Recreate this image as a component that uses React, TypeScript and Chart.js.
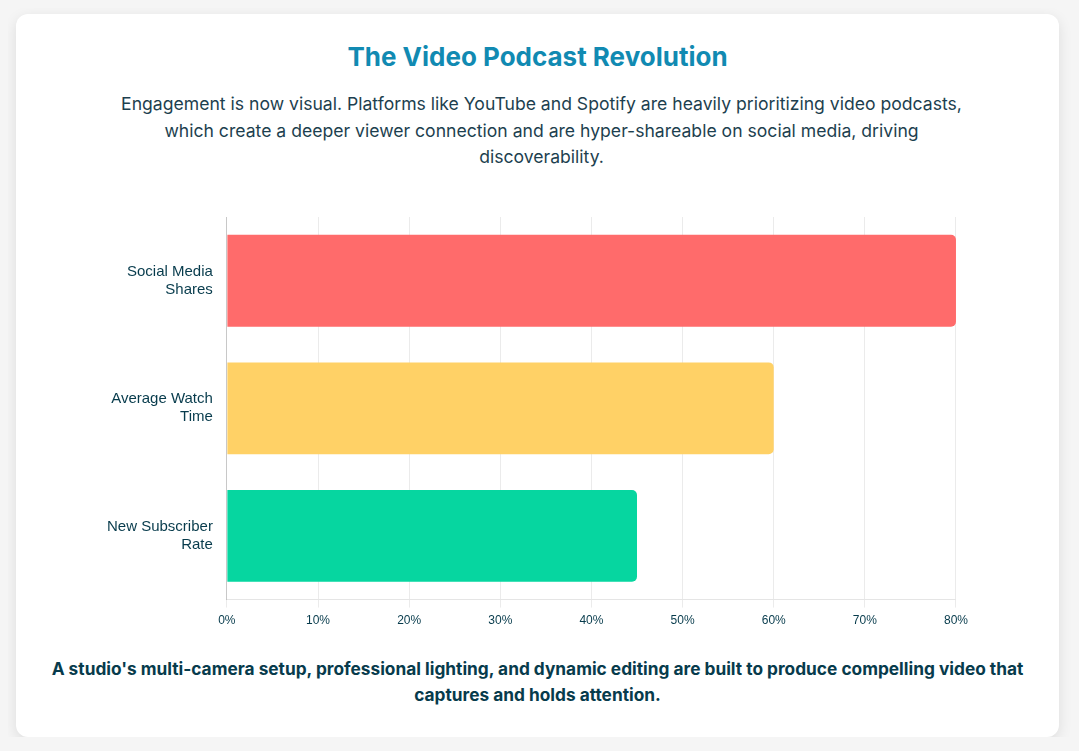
import React, { useEffect, useRef } from "react";
import { Chart, registerables } from "chart.js";

Chart.register(...registerables);

const TITLE = "The Video Podcast Revolution";
const SUBTITLE =
  "Engagement is now visual. Platforms like YouTube and Spotify are heavily prioritizing video podcasts, which create a deeper viewer connection and are hyper-shareable on social media, driving discoverability.";
const FOOTER =
  "A studio's multi-camera setup, professional lighting, and dynamic editing are built to produce compelling video that captures and holds attention.";

const categories: string[][] = [
  ["Social Media", "Shares"],
  ["Average Watch", "Time"],
  ["New Subscriber", "Rate"],
];
const values: number[] = [80, 60, 45];
const barColors: string[] = ["#ff6b6b", "#ffd166", "#06d6a0"];

const DARK = "#073b4c";
const SANS = "Inter, 'Noto Sans', sans-serif";

export default function App() {
  const ref = useRef<HTMLCanvasElement | null>(null);

  useEffect(() => {
    document.body.style.background = "#f5f5f5";
    document.documentElement.style.background = "#f5f5f5";
    if (!ref.current) return;
    const chart = new Chart(ref.current, {
      type: "bar",
      data: {
        labels: categories,
        datasets: [
          {
            data: values,
            backgroundColor: barColors,
            borderColor: barColors,
            borderWidth: 0,
            borderRadius: 5,
          },
        ],
      },
      options: {
        indexAxis: "y",
        animation: false,
        responsive: true,
        maintainAspectRatio: false,
        plugins: {
          legend: { display: false },
          tooltip: { enabled: false },
        },
        scales: {
          x: {
            beginAtZero: true,
            max: 80,
            ticks: {
              stepSize: 10,
              color: DARK,
              padding: 6,
              font: { size: 12 },
              callback: (v: any) => v + "%",
            },
            grid: { color: "rgba(0,0,0,0.08)" },
          },
          y: {
            grid: { display: false },
            border: { color: "rgba(0,0,0,0.15)" },
            ticks: {
              color: DARK,
              padding: 6,
              font: { size: 15 },
            },
          },
        },
      },
    });
    return () => chart.destroy();
  }, []);

  return (
    <div
      style={{
        width: 1043,
        margin: "6px 0 0 8px",
        background: "#fff",
        borderRadius: 12,
        boxShadow: "0 4px 14px rgba(0,0,0,0.10)",
        paddingTop: 26,
        paddingBottom: 29,
        boxSizing: "border-box",
        fontFamily: SANS,
      }}
    >
      <h1
        style={{
          margin: 0,
          textAlign: "center",
          fontSize: 26,
          lineHeight: "34px",
          fontWeight: 700,
          color: "#118ab2",
        }}
      >
        {TITLE}
      </h1>
      <p
        style={{
          margin: "17px auto 0",
          maxWidth: 864,
          textAlign: "center",
          fontSize: 17.6,
          lineHeight: "26.5px",
          color: "#1d3f4f",
          position: "relative",
          left: 4,
        }}
      >
        {SUBTITLE}
      </p>
      <div
        style={{
          position: "relative",
          width: 873,
          height: 441,
          margin: "22px 0 0 85px",
        }}
      >
        <canvas ref={ref} />
      </div>
      <p
        style={{
          margin: "22px 26px 0",
          textAlign: "center",
          fontSize: 17.3,
          lineHeight: "26.4px",
          fontWeight: 700,
          color: DARK,
        }}
      >
        {FOOTER}
      </p>
    </div>
  );
}
